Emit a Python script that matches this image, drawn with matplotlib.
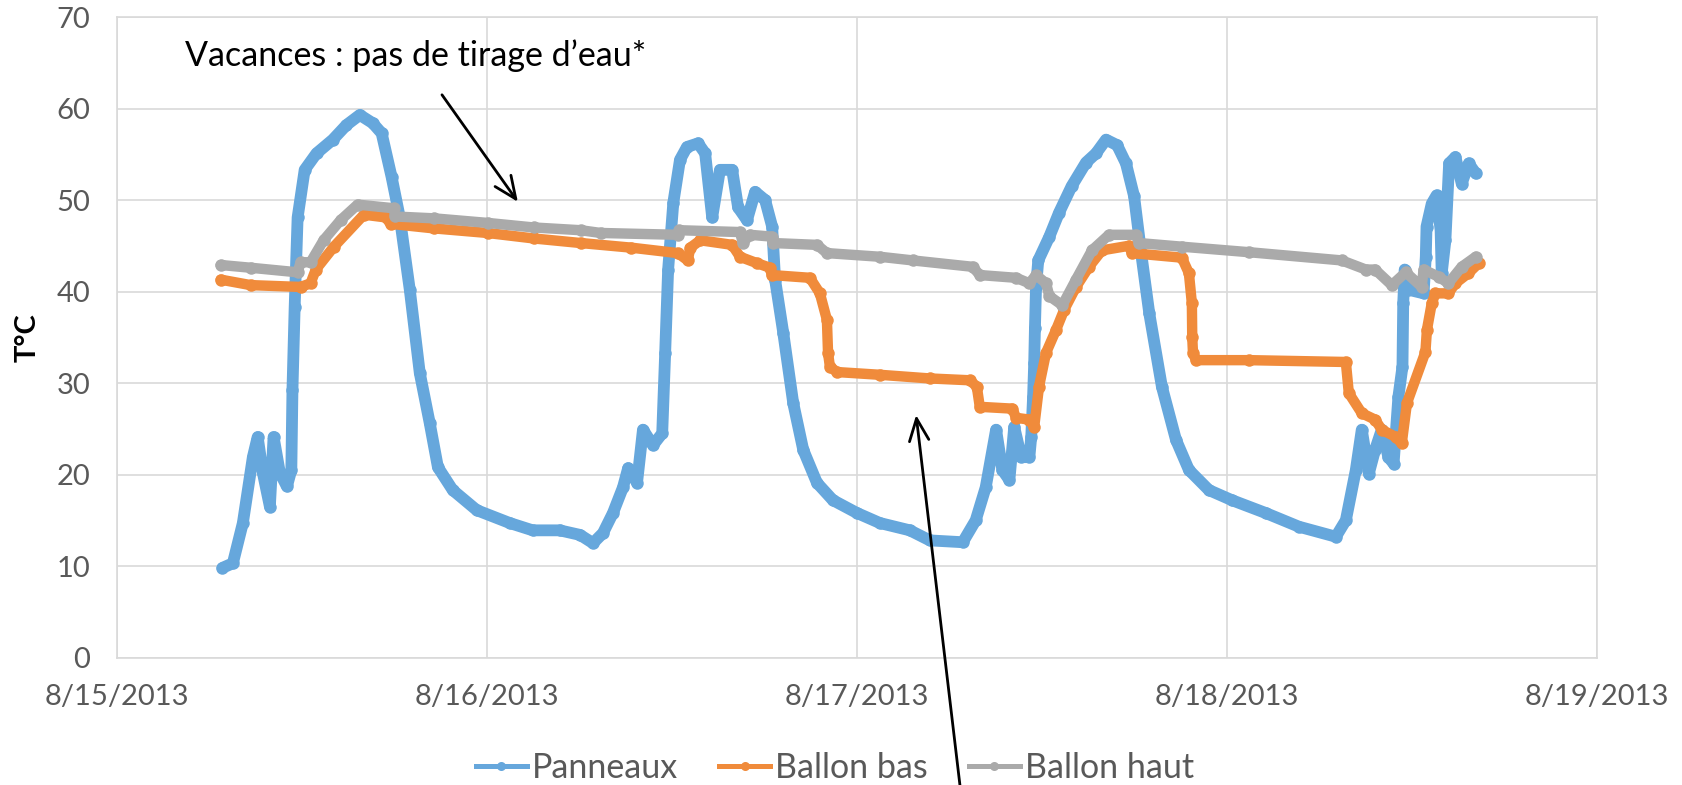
import matplotlib
matplotlib.use("Agg")
import matplotlib.pyplot as plt
import matplotlib.dates as mdates
from matplotlib.ticker import FuncFormatter
from matplotlib.lines import Line2D
import pandas as pd

plt.rcParams['font.family'] = ['Lato', 'DejaVu Sans']

# ---- data (fractional days since 8/15/2013 00:00, temperature in °C) ----
pan_days = [0.286, 0.314, 0.341, 0.368, 0.381, 0.395, 0.414, 0.424, 0.441, 0.460,
            0.472, 0.475, 0.481, 0.489, 0.508, 0.540, 0.584, 0.621, 0.657, 0.692,
            0.716, 0.743, 0.765, 0.792, 0.819, 0.846, 0.868, 0.908, 0.973, 1.062,
            1.124, 1.197, 1.252, 1.287, 1.314, 1.341, 1.368, 1.382, 1.406, 1.422,
            1.449, 1.474, 1.482, 1.490, 1.504, 1.522, 1.541, 1.571, 1.590, 1.609,
            1.630, 1.663, 1.679, 1.703, 1.725, 1.752, 1.771, 1.779, 1.801, 1.828,
            1.855, 1.892, 1.935, 2.000, 2.062, 2.143, 2.197, 2.286, 2.321, 2.348,
            2.376, 2.393, 2.412, 2.425, 2.444, 2.466, 2.471, 2.476, 2.479, 2.481,
            2.484, 2.490, 2.520, 2.546, 2.580, 2.619, 2.646, 2.673, 2.703, 2.727,
            2.749, 2.768, 2.790, 2.824, 2.862, 2.897, 2.951, 3.013, 3.104, 3.194,
            3.294, 3.321, 3.348, 3.364, 3.383, 3.400, 3.418, 3.436, 3.450, 3.463,
            3.474, 3.476, 3.480, 3.490, 3.531, 3.537, 3.539, 3.553, 3.566, 3.577,
            3.580, 3.590, 3.600, 3.617, 3.634, 3.653, 3.672]
pan_temp = [9.8, 10.3, 14.7, 21.9, 24.1, 20.2, 16.5, 24.1, 20.2, 18.7,
            20.5, 29.2, 38.3, 48.1, 53.3, 55.1, 56.6, 58.2, 59.3, 58.4,
            57.3, 52.5, 48.1, 40.2, 31.1, 25.6, 20.8, 18.3, 16.1, 14.7,
            13.9, 13.9, 13.4, 12.5, 13.6, 15.8, 18.6, 20.7, 19.1, 24.9,
            23.2, 24.5, 33.3, 42.4, 49.7, 54.4, 55.8, 56.2, 55.1, 48.1,
            53.3, 53.3, 49.2, 47.8, 50.9, 50.0, 47.1, 41.3, 35.5, 27.8,
            22.7, 19.1, 17.2, 15.8, 14.7, 13.9, 12.8, 12.6, 15.0, 18.6,
            24.9, 20.5, 19.4, 25.2, 21.9, 21.9, 24.1, 28.5, 32.2, 36.0,
            40.5, 43.4, 46.0, 48.6, 51.5, 54.1, 55.1, 56.6, 56.0, 54.0,
            50.4, 44.2, 37.6, 29.6, 23.8, 20.5, 18.3, 17.2, 15.8, 14.3,
            13.2, 15.0, 20.5, 24.9, 20.1, 22.7, 24.9, 21.9, 21.2, 28.5,
            31.8, 38.7, 42.4, 40.2, 39.8, 43.8, 47.1, 49.6, 50.5, 46.7,
            42.0, 45.6, 54.0, 54.7, 51.8, 54.0, 52.9]

bas_days = [0.281, 0.362, 0.497, 0.524, 0.538, 0.587, 0.668, 0.727, 0.740, 0.857,
            1.002, 1.127, 1.254, 1.389, 1.516, 1.543, 1.550, 1.577, 1.663, 1.684,
            1.730, 1.765, 1.770, 1.873, 1.900, 1.919, 1.922, 1.927, 1.946, 2.062,
            2.197, 2.305, 2.324, 2.332, 2.420, 2.430, 2.466, 2.479, 2.492, 2.511,
            2.538, 2.560, 2.592, 2.627, 2.662, 2.735, 2.743, 2.878, 2.897, 2.905,
            2.906, 2.908, 2.916, 3.059, 3.321, 3.329, 3.364, 3.400, 3.418, 3.456,
            3.472, 3.486, 3.536, 3.540, 3.553, 3.563, 3.598, 3.617, 3.652, 3.680]
bas_temp = [41.3, 40.7, 40.5, 40.9, 42.4, 44.9, 48.4, 48.1, 47.4, 46.9,
            46.4, 45.8, 45.3, 44.8, 44.2, 43.4, 44.8, 45.6, 45.1, 43.8,
            43.1, 42.6, 41.8, 41.5, 39.8, 36.9, 33.3, 31.8, 31.2, 30.9,
            30.5, 30.3, 29.6, 27.4, 27.2, 26.2, 26.0, 25.2, 29.6, 33.3,
            35.8, 38.0, 40.5, 42.7, 44.5, 45.0, 44.2, 43.7, 42.0, 38.7,
            35.0, 33.3, 32.5, 32.5, 32.3, 28.9, 26.7, 26.0, 24.9, 24.1,
            23.4, 27.8, 33.4, 35.8, 38.7, 39.8, 39.8, 40.9, 42.0, 43.1]

haut_days = [0.281, 0.362, 0.489, 0.497, 0.524, 0.559, 0.605, 0.651, 0.749, 0.752,
             0.857, 1.002, 1.127, 1.254, 1.308, 1.516, 1.520, 1.684, 1.692, 1.711,
             1.770, 1.773, 1.892, 1.919, 2.062, 2.151, 2.313, 2.332, 2.430, 2.466,
             2.484, 2.511, 2.520, 2.555, 2.592, 2.635, 2.681, 2.754, 2.762, 2.878,
             3.059, 3.310, 3.375, 3.400, 3.445, 3.483, 3.526, 3.531, 3.572, 3.598,
             3.634, 3.672]
haut_temp = [42.9, 42.6, 42.1, 43.2, 43.2, 45.6, 47.8, 49.5, 49.1, 48.2,
             48.0, 47.5, 47.0, 46.7, 46.4, 46.2, 46.7, 46.5, 45.3, 46.2,
             46.0, 45.3, 45.1, 44.2, 43.8, 43.4, 42.7, 41.8, 41.5, 40.9,
             41.8, 40.9, 39.5, 38.5, 41.3, 44.5, 46.2, 46.2, 45.3, 44.9,
             44.3, 43.4, 42.4, 42.4, 40.7, 42.1, 40.5, 42.4, 41.6, 40.9,
             42.7, 43.8]

series_names = ["Panneaux", "Ballon bas", "Ballon haut"]
series_colors = ["#66A7DC", "#F08B3B", "#AAAAAA"]
tick_dates = ["2013-08-15", "2013-08-16", "2013-08-17", "2013-08-18", "2013-08-19"]
y_ticks = [0, 10, 20, 30, 40, 50, 60, 70]

annot_text = "Vacances : pas de tirage d\u2019eau*"

start = pd.Timestamp("2013-08-15")


def to_num(days):
    return [mdates.date2num(start + pd.Timedelta(days=d)) for d in days]


fig = plt.figure(figsize=(16.83, 7.85), dpi=100)
ax = fig.add_axes([0.0693, 0.1624, 0.8797, 0.8159])

all_series = [(pan_days, pan_temp), (bas_days, bas_temp), (haut_days, haut_temp)]
line_w = [8.5, 7.5, 7.5]
for (d, t), name, col, lw in zip(all_series, series_names, series_colors, line_w):
    ax.plot(to_num(d), t, color=col, lw=lw, marker='o', ms=9,
            markeredgewidth=0, solid_capstyle='round', solid_joinstyle='round',
            label=name)

tick_nums = [mdates.date2num(pd.Timestamp(s)) for s in tick_dates]
ax.set_xlim(tick_nums[0], tick_nums[-1])
ax.set_ylim(y_ticks[0], y_ticks[-1])
ax.set_xticks(tick_nums)
ax.set_yticks(y_ticks)
ax.xaxis.set_major_formatter(FuncFormatter(
    lambda v, p: (lambda dt: f"{dt.month}/{dt.day}/{dt.year}")(mdates.num2date(v))))

grid_col = "#D9D9D9"
ax.grid(True, color=grid_col, lw=1.2)
ax.set_axisbelow(True)
for s in ax.spines.values():
    s.set_color(grid_col)
    s.set_linewidth(1.2)
ax.tick_params(axis='both', length=0, labelsize=21, labelcolor="#595959")
ax.tick_params(axis='y', pad=19)
ax.tick_params(axis='x', pad=19)

ax.set_ylabel("T°C", fontsize=21, fontweight='bold', color='black')
ax.yaxis.set_label_coords(-0.051, 0.5)

# annotations
ax.text(to_num([0.185])[0], 64.6, annot_text, fontsize=24.5, color='black',
        ha='left', va='baseline')
arrow_props = dict(arrowstyle="->,head_length=0.8,head_width=0.35",
                   lw=2.0, color='black', mutation_scale=20, shrinkA=0, shrinkB=0)
ax.annotate("", xy=(to_num([1.084])[0], 49.8), xytext=(to_num([0.879])[0], 61.5),
            arrowprops=arrow_props, annotation_clip=False)
ax.annotate("", xy=(to_num([2.16])[0], 26.5), xytext=(to_num([2.28])[0], -14.5),
            arrowprops=arrow_props, annotation_clip=False)

handles = [Line2D([0], [0], color=c, lw=3.6, marker='o', ms=6.5, markeredgewidth=0)
           for c in series_colors]
fig.legend(handles, series_names, loc='center', bbox_to_anchor=(835 / 1683, 1 - 768 / 785),
           ncol=3, frameon=False, fontsize=24.5, labelcolor="#595959",
           handlelength=1.5, handletextpad=0.15, columnspacing=1.2, borderaxespad=0)

fig.savefig("out.png", dpi=100)
